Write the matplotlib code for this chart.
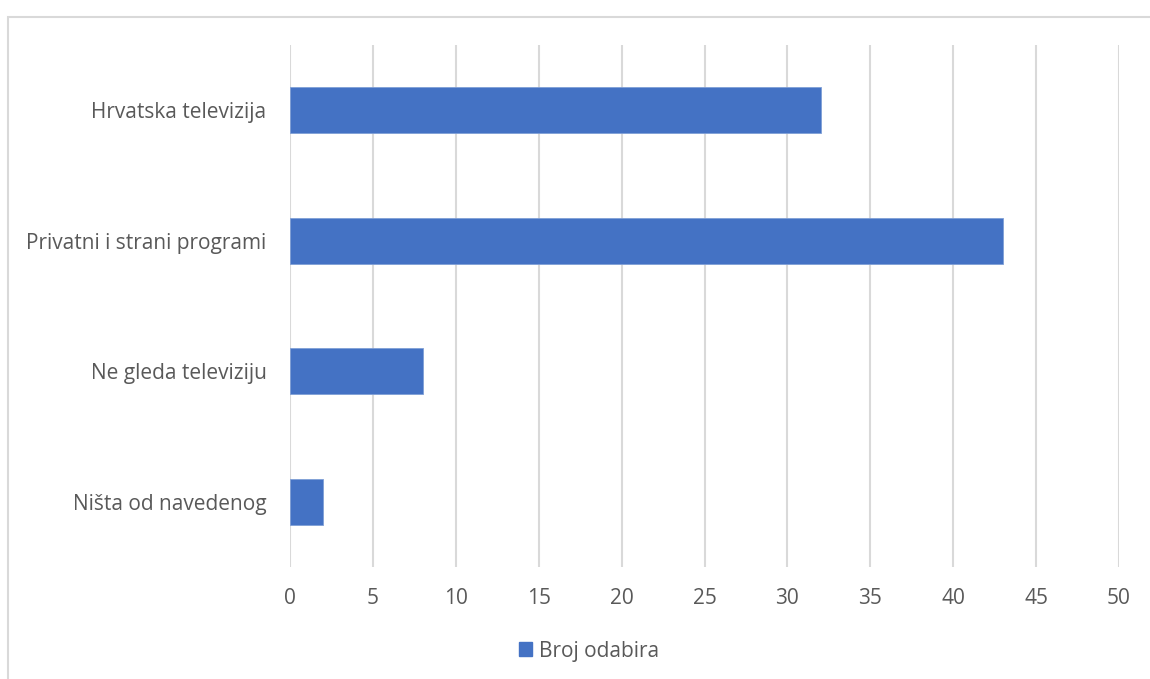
import matplotlib
matplotlib.use("Agg")
import matplotlib.pyplot as plt
from matplotlib.patches import Rectangle, Patch

categories = ["Hrvatska televizija", "Privatni i strani programi", "Ne gleda televiziju", "Ništa od navedenog"]
values = [32, 43, 8, 2]
xticks = [0, 5, 10, 15, 20, 25, 30, 35, 40, 45, 50]
series_name = "Broj odabira"

plt.rcParams['font.family'] = ['Open Sans', 'DejaVu Sans']
txt = "#595959"
grid = "#d9d9d9"
bar_c = "#4472c4"

fig = plt.figure(figsize=(11.5, 6.79), dpi=100)
fig.patches.append(Rectangle((8/1150, -0.1), 1.2, 1 - 17/679 + 0.1, transform=fig.transFigure,
                             fill=False, edgecolor=grid, linewidth=1.5, zorder=0))
ax = fig.add_axes([290/1150, 1 - 567/679, (1119 - 290)/1150, (567 - 45)/679])

ypos = list(range(len(categories)))
ax.barh(ypos, values, height=0.354, color=bar_c, edgecolor="#7f9fd6", linewidth=0.6, zorder=3)
ax.set_ylim(len(categories) - 0.5, -0.5)
ax.set_xlim(0, 50)
ax.set_xticks(xticks)
ax.set_xticklabels([str(t) for t in xticks])
ax.set_yticks(ypos)
ax.set_yticklabels(categories)
ax.grid(axis="x", color=grid, linewidth=1.5, zorder=0)
ax.set_axisbelow(True)
for s in ax.spines.values():
    s.set_visible(False)
ax.tick_params(axis="both", length=0, labelsize=15, colors=txt)
ax.tick_params(axis="x", pad=15)
ax.tick_params(axis="y", pad=17)

leg = fig.legend(handles=[Patch(color=bar_c, label=series_name)], loc="center",
                 bbox_to_anchor=(589/1150, 1 - 651/679), frameon=False, fontsize=15,
                 handlelength=0.65, handleheight=0.65, handletextpad=0.35)
for t in leg.get_texts():
    t.set_color(txt)

fig.savefig("out.png", dpi=100)
